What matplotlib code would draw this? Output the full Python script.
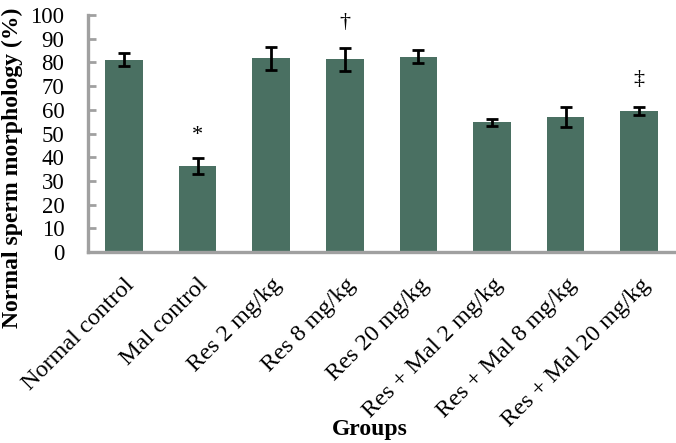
import matplotlib
matplotlib.use('Agg')
import matplotlib.pyplot as plt
import numpy as np

groups = ['Normal control', 'Mal control', 'Res 2 mg/kg', 'Res 8 mg/kg', 'Res 20 mg/kg',
          'Res + Mal 2 mg/kg', 'Res + Mal 8 mg/kg', 'Res + Mal 20 mg/kg']
means = [81.2, 36.3, 81.7, 81.3, 82.4, 54.7, 57.0, 59.6]
errors = [2.6, 3.2, 4.7, 4.8, 2.8, 1.6, 4.3, 1.6]
marks = ['', '*', '', '\u2020', '', '', '', '\u2021']
mark_y = [None, 49, None, 97, None, None, None, 73]

plt.rcParams['font.family'] = ['Liberation Serif', 'DejaVu Serif']

fig = plt.figure(figsize=(6.76, 4.43), dpi=100)
ax = fig.add_axes([0.130, 0.431, 0.870, 0.535])

x = np.arange(len(groups))
ax.bar(x, means, width=0.51, color='#4A7062')
ax.errorbar(x, means, yerr=errors, fmt='none', ecolor='black', elinewidth=2,
            capsize=4.5, capthick=2)

for i, m in enumerate(marks):
    if m:
        ax.text(x[i], mark_y[i], m, ha='center', va='center', fontsize=16)

ax.set_xlim(-0.49, 7.5)
ax.set_ylim(0, 100)
ax.set_yticks(np.arange(0, 101, 10))
ax.tick_params(axis='y', labelsize=16.5, color='#a0a0a0', direction='in',
               length=6, width=2, pad=17)
ax.tick_params(axis='x', length=0, pad=16)
ax.set_xticks(x)
ax.set_xticklabels(groups, rotation=45, ha='right', rotation_mode='anchor', fontsize=17.5)

for s in ['top', 'right']:
    ax.spines[s].set_visible(False)
for s in ['left', 'bottom']:
    ax.spines[s].set_color('#a0a0a0')
    ax.spines[s].set_linewidth(2.4)

fig.text(0.018, 1 - 168 / 443, 'Normal sperm morphology (%)', rotation=90,
         ha='center', va='center', fontsize=17, fontweight='bold')
fig.text(370 / 676, 1 - 430 / 443, 'Groups', ha='center', va='center',
         fontsize=17, fontweight='bold')

fig.savefig('out.png', dpi=100)
